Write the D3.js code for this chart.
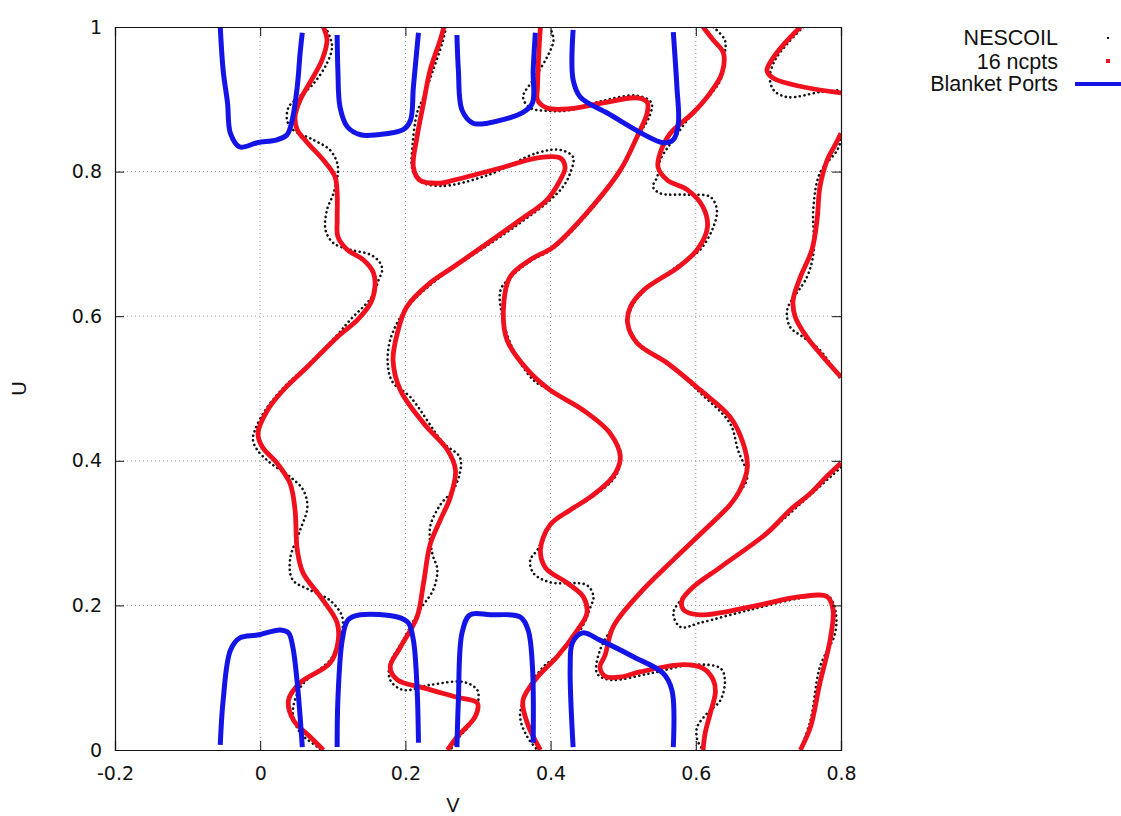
<!DOCTYPE html>
<html>
<head>
<meta charset="utf-8">
<script src="https://cdn.jsdelivr.net/npm/d3@7"></script>
<style>
  body { margin: 0; background: #fff; }
  text { font-family: "Liberation Sans", Arial, sans-serif; fill: #111; }
  .axisGroup .tick text { font-family: "DejaVu Sans", sans-serif; }
</style>
</head>
<body>
<div id="chart"></div>
<script>
const width = 1121
const height = 816
const margin = {top: 27, left: 115, right: 280, bottom: 66}

const xTicks = [-0.2, 0, 0.2, 0.4, 0.6, 0.8]
const yTicks = [0, 0.2, 0.4, 0.6, 0.8, 1]
const legendLabels = ["NESCOIL", "16 ncpts", "Blanket Ports"]

// 16 ncpts coils, [v, u]
const coilA = [[0.087,1.000],[0.092,0.982],[0.085,0.954],[0.069,0.924],[0.055,0.899],[0.048,0.876],[0.051,0.858],[0.065,0.840],[0.087,0.816],[0.103,0.793],[0.106,0.770],[0.106,0.733],[0.107,0.710],[0.120,0.692],[0.142,0.678],[0.156,0.660],[0.158,0.640],[0.152,0.618],[0.134,0.595],[0.106,0.571],[0.065,0.530],[0.032,0.498],[0.010,0.470],[-0.003,0.438],[0.003,0.419],[0.023,0.397],[0.041,0.369],[0.048,0.332],[0.051,0.277],[0.059,0.245],[0.083,0.212],[0.106,0.176],[0.107,0.148],[0.096,0.120],[0.055,0.093],[0.039,0.069],[0.046,0.041],[0.069,0.018],[0.087,0.000]]
const coilB = [[0.253,1.000],[0.248,0.982],[0.234,0.940],[0.225,0.895],[0.216,0.848],[0.211,0.806],[0.220,0.788],[0.248,0.784],[0.266,0.788],[0.335,0.806],[0.382,0.819],[0.413,0.819],[0.420,0.806],[0.413,0.788],[0.395,0.761],[0.358,0.733],[0.313,0.701],[0.266,0.668],[0.234,0.646],[0.202,0.613],[0.189,0.577],[0.183,0.539],[0.193,0.498],[0.225,0.452],[0.258,0.415],[0.269,0.387],[0.262,0.350],[0.248,0.318],[0.234,0.284],[0.225,0.231],[0.216,0.184],[0.193,0.142],[0.179,0.115],[0.189,0.097],[0.225,0.086],[0.271,0.073],[0.299,0.065],[0.296,0.046],[0.271,0.018],[0.258,0.000]]
const coilC = [[0.386,1.000],[0.384,0.968],[0.382,0.917],[0.382,0.899],[0.395,0.888],[0.427,0.887],[0.472,0.895],[0.519,0.902],[0.533,0.896],[0.533,0.881],[0.519,0.848],[0.496,0.802],[0.450,0.743],[0.404,0.696],[0.372,0.678],[0.344,0.654],[0.335,0.609],[0.340,0.567],[0.368,0.526],[0.399,0.498],[0.445,0.470],[0.482,0.438],[0.496,0.405],[0.486,0.378],[0.455,0.350],[0.427,0.332],[0.399,0.311],[0.386,0.277],[0.393,0.252],[0.423,0.231],[0.445,0.212],[0.450,0.189],[0.437,0.166],[0.409,0.129],[0.382,0.101],[0.362,0.069],[0.368,0.037],[0.386,0.000]]
const coilD = [[0.610,1.000],[0.624,0.982],[0.638,0.964],[0.636,0.936],[0.620,0.909],[0.596,0.881],[0.565,0.853],[0.551,0.826],[0.548,0.806],[0.561,0.788],[0.588,0.775],[0.610,0.751],[0.616,0.723],[0.602,0.692],[0.576,0.668],[0.528,0.636],[0.510,0.613],[0.506,0.591],[0.519,0.563],[0.561,0.535],[0.606,0.498],[0.647,0.461],[0.665,0.425],[0.671,0.391],[0.661,0.360],[0.647,0.339],[0.616,0.308],[0.569,0.263],[0.523,0.217],[0.486,0.170],[0.475,0.131],[0.468,0.115],[0.475,0.102],[0.496,0.101],[0.523,0.108],[0.583,0.118],[0.610,0.113],[0.624,0.097],[0.627,0.080],[0.620,0.051],[0.613,0.024],[0.610,0.000]]
const coilE1 = [[0.744,1.000],[0.723,0.978],[0.707,0.958],[0.698,0.940],[0.707,0.929],[0.748,0.917],[0.800,0.909]]
const coilE2 = [[0.800,0.853],[0.792,0.837],[0.781,0.816],[0.771,0.779],[0.767,0.733],[0.760,0.692],[0.744,0.654],[0.734,0.622],[0.737,0.599],[0.753,0.571],[0.775,0.544],[0.800,0.516]]
const coilE3 = [[0.800,0.397],[0.778,0.376],[0.758,0.355],[0.730,0.332],[0.698,0.300],[0.634,0.253],[0.596,0.225],[0.581,0.207],[0.583,0.194],[0.606,0.187],[0.675,0.198],[0.744,0.212],[0.781,0.212],[0.789,0.194],[0.785,0.152],[0.771,0.093],[0.758,0.032],[0.744,0.000]]

// NESCOIL coils, [v, u]
const nescA = [[0.090,1.000],[0.096,0.986],[0.099,0.972],[0.092,0.950],[0.072,0.920],[0.048,0.899],[0.039,0.889],[0.037,0.871],[0.045,0.858],[0.073,0.844],[0.096,0.830],[0.106,0.812],[0.107,0.798],[0.101,0.770],[0.092,0.747],[0.090,0.719],[0.101,0.701],[0.124,0.692],[0.152,0.685],[0.165,0.674],[0.168,0.664],[0.163,0.650],[0.154,0.627],[0.124,0.595],[0.106,0.574],[0.065,0.532],[0.032,0.501],[0.007,0.470],[-0.007,0.443],[-0.010,0.429],[-0.004,0.415],[0.014,0.397],[0.041,0.378],[0.059,0.360],[0.065,0.336],[0.055,0.304],[0.041,0.263],[0.045,0.235],[0.069,0.221],[0.096,0.207],[0.113,0.184],[0.110,0.152],[0.096,0.124],[0.072,0.104],[0.055,0.086],[0.045,0.051],[0.055,0.024],[0.079,0.004],[0.083,0.000]]
const nescB = [[0.256,1.000],[0.252,0.982],[0.238,0.940],[0.225,0.903],[0.216,0.881],[0.209,0.826],[0.209,0.806],[0.218,0.788],[0.248,0.780],[0.313,0.795],[0.382,0.826],[0.413,0.830],[0.431,0.820],[0.427,0.798],[0.417,0.779],[0.395,0.757],[0.358,0.729],[0.313,0.698],[0.266,0.667],[0.234,0.643],[0.200,0.609],[0.179,0.567],[0.176,0.530],[0.183,0.508],[0.207,0.488],[0.252,0.425],[0.275,0.405],[0.275,0.383],[0.266,0.360],[0.248,0.339],[0.234,0.308],[0.237,0.272],[0.244,0.249],[0.238,0.221],[0.220,0.194],[0.197,0.152],[0.179,0.120],[0.179,0.097],[0.197,0.083],[0.234,0.090],[0.280,0.094],[0.299,0.083],[0.300,0.065],[0.293,0.041],[0.271,0.014],[0.262,0.000]]
const nescC = [[0.399,1.000],[0.404,0.982],[0.395,0.958],[0.376,0.927],[0.362,0.903],[0.372,0.888],[0.395,0.884],[0.427,0.885],[0.472,0.898],[0.519,0.905],[0.539,0.895],[0.536,0.876],[0.523,0.853],[0.499,0.805],[0.452,0.743],[0.404,0.694],[0.372,0.676],[0.344,0.653],[0.331,0.636],[0.333,0.602],[0.347,0.557],[0.376,0.512],[0.404,0.495],[0.448,0.467],[0.486,0.433],[0.497,0.408],[0.489,0.378],[0.457,0.350],[0.427,0.331],[0.399,0.311],[0.382,0.277],[0.372,0.263],[0.376,0.245],[0.399,0.232],[0.450,0.228],[0.459,0.212],[0.455,0.198],[0.441,0.166],[0.410,0.131],[0.390,0.115],[0.368,0.083],[0.358,0.046],[0.368,0.018],[0.382,0.000]]
const nescD = [[0.624,1.000],[0.640,0.982],[0.640,0.964],[0.634,0.927],[0.617,0.903],[0.592,0.876],[0.569,0.844],[0.551,0.816],[0.547,0.793],[0.541,0.779],[0.551,0.770],[0.588,0.768],[0.620,0.765],[0.629,0.747],[0.624,0.723],[0.606,0.692],[0.573,0.668],[0.530,0.636],[0.512,0.613],[0.507,0.591],[0.521,0.563],[0.562,0.535],[0.606,0.494],[0.647,0.452],[0.658,0.415],[0.671,0.378],[0.661,0.357],[0.647,0.339],[0.616,0.308],[0.569,0.263],[0.523,0.217],[0.486,0.170],[0.468,0.138],[0.464,0.106],[0.482,0.097],[0.537,0.106],[0.596,0.118],[0.634,0.113],[0.640,0.097],[0.634,0.069],[0.616,0.051],[0.602,0.032],[0.602,0.014],[0.610,0.000]]
const nescE1 = [[0.748,1.000],[0.727,0.978],[0.709,0.954],[0.702,0.931],[0.707,0.913],[0.726,0.903],[0.771,0.910],[0.800,0.913]]
const nescE2 = [[0.800,0.844],[0.795,0.830],[0.771,0.798],[0.762,0.751],[0.762,0.687],[0.753,0.654],[0.726,0.609],[0.730,0.585],[0.748,0.571],[0.771,0.553],[0.800,0.512]]
const nescE3 = [[0.800,0.391],[0.758,0.353],[0.698,0.300],[0.634,0.253],[0.592,0.221],[0.579,0.207],[0.569,0.189],[0.579,0.170],[0.606,0.176],[0.675,0.194],[0.744,0.210],[0.782,0.213],[0.792,0.194],[0.792,0.162],[0.771,0.115],[0.758,0.041],[0.744,0.000]]

// blanket ports, [v, u]
const portTop1 = [[-0.055,1.000],[-0.051,0.940],[-0.045,0.895],[-0.041,0.853],[-0.028,0.834],[-0.004,0.840],[0.023,0.844],[0.037,0.851],[0.044,0.871],[0.051,0.917],[0.055,0.964],[0.058,0.992]]
const portTop2 = [[0.106,0.989],[0.107,0.940],[0.110,0.889],[0.120,0.862],[0.138,0.851],[0.161,0.851],[0.197,0.858],[0.207,0.871],[0.211,0.917],[0.218,0.992]]
const portTop3 = [[0.271,0.989],[0.273,0.940],[0.278,0.885],[0.293,0.867],[0.313,0.867],[0.362,0.882],[0.375,0.895],[0.376,0.940],[0.379,0.992]]
const portTop4 = [[0.431,0.996],[0.431,0.927],[0.441,0.903],[0.478,0.881],[0.555,0.840],[0.569,0.844],[0.576,0.867],[0.574,0.917],[0.569,0.993]]
const portBot1 = [[-0.055,0.007],[-0.051,0.069],[-0.041,0.138],[-0.028,0.155],[-0.004,0.159],[0.028,0.166],[0.039,0.162],[0.045,0.142],[0.051,0.093],[0.055,0.046],[0.058,0.004]]
const portBot2 = [[0.106,0.004],[0.107,0.069],[0.113,0.152],[0.121,0.180],[0.138,0.187],[0.189,0.184],[0.204,0.176],[0.211,0.152],[0.216,0.087],[0.218,0.010]]
const portBot3 = [[0.271,0.004],[0.273,0.069],[0.278,0.162],[0.289,0.187],[0.317,0.187],[0.358,0.184],[0.369,0.166],[0.375,0.115],[0.376,0.010]]
const portBot4 = [[0.431,0.004],[0.427,0.115],[0.430,0.148],[0.444,0.162],[0.468,0.152],[0.514,0.129],[0.555,0.106],[0.567,0.083],[0.569,0.004]]

const coils = [coilA, coilB, coilC, coilD, coilE1, coilE2, coilE3]
const nescoils = [nescA, nescB, nescC, nescD, nescE1, nescE2, nescE3]
const ports = [portTop1, portTop2, portTop3, portTop4, portBot1, portBot2, portBot3, portBot4]

const svg = d3.select("div#chart").append("svg").attr("width", width).attr("height", height)

const x = d3.scaleLinear().domain([-0.2, 0.8]).range([margin.left, width - margin.right])
const y = d3.scaleLinear().domain([0, 1]).range([height - margin.bottom, margin.top])

// grid
const gridGroup = svg.append("g").attr("class", "grid")
gridGroup.selectAll("line.gx").data(xTicks.slice(1, -1)).enter().append("line")
    .attr("x1", d => x(d)).attr("x2", d => x(d))
    .attr("y1", y(0)).attr("y2", y(1))
    .attr("stroke", "#999").attr("stroke-width", 1).attr("stroke-dasharray", "1,3")
gridGroup.selectAll("line.gy").data(yTicks.slice(1, -1)).enter().append("line")
    .attr("y1", d => y(d)).attr("y2", d => y(d))
    .attr("x1", x(-0.2)).attr("x2", x(0.8))
    .attr("stroke", "#999").attr("stroke-width", 1).attr("stroke-dasharray", "1,3")

svg.append("clipPath").attr("id", "plotClip").append("rect")
    .attr("x", x(-0.2)).attr("y", y(1))
    .attr("width", x(0.8) - x(-0.2)).attr("height", y(0) - y(1))

const line = d3.line().x(d => x(d[0])).y(d => y(d[1])).curve(d3.curveCatmullRom.alpha(0.5))

const elementGroup = svg.append("g").attr("clip-path", "url(#plotClip)")

elementGroup.selectAll("path.nescoil").data(nescoils).enter().append("path")
    .attr("class", "nescoil")
    .attr("d", line)
    .attr("fill", "none").attr("stroke", "#111").attr("stroke-width", 2.6)
    .attr("stroke-linecap", "round").attr("stroke-dasharray", "0.1,4.6")

elementGroup.selectAll("path.coil").data(coils).enter().append("path")
    .attr("class", "coil")
    .attr("d", line)
    .attr("fill", "none").attr("stroke", "#f0101e").attr("stroke-width", 4.8)

elementGroup.selectAll("path.port").data(ports).enter().append("path")
    .attr("class", "port")
    .attr("d", line)
    .attr("fill", "none").attr("stroke", "#1414e6").attr("stroke-width", 5)

// axes (ticks inward, mirrored)
const fmt = d => String(d)
const xAxis = d3.axisBottom(x).tickValues(xTicks).tickSize(-9).tickPadding(17).tickFormat(fmt)
const yAxis = d3.axisLeft(y).tickValues(yTicks).tickSize(-9).tickPadding(13).tickFormat(fmt)
const xAxisTop = d3.axisTop(x).tickValues(xTicks).tickSize(-9).tickFormat("")
const yAxisRight = d3.axisRight(y).tickValues(yTicks).tickSize(-9).tickFormat("")

const axisGroup = svg.append("g").attr("class", "axisGroup")
axisGroup.append("g").attr("transform", `translate(0, ${y(0)})`).call(xAxis)
axisGroup.append("g").attr("transform", `translate(${x(-0.2)}, 0)`).call(yAxis)
axisGroup.append("g").attr("transform", `translate(0, ${y(1)})`).call(xAxisTop)
axisGroup.append("g").attr("transform", `translate(${x(0.8)}, 0)`).call(yAxisRight)
axisGroup.selectAll("path.domain").attr("stroke", "#111").attr("stroke-width", 1.2)
axisGroup.selectAll(".tick line").attr("stroke", "#111")
axisGroup.selectAll(".tick text").attr("font-size", 19).attr("fill", "#111")

// axis titles
svg.append("text").attr("x", 453).attr("y", 812)
    .attr("text-anchor", "middle").attr("font-size", 20).text("V")
svg.append("text").attr("transform", `translate(26, ${y(0.5)}) rotate(-90)`)
    .attr("text-anchor", "middle").attr("font-size", 20).text("U")

// legend
const legend = svg.append("g").attr("class", "legend")
const legendY = [45, 69, 91]
legend.selectAll("text").data(legendLabels).enter().append("text")
    .attr("x", 1058).attr("y", (d, i) => legendY[i])
    .attr("text-anchor", "end").attr("font-size", 21.5).text(d => d)
legend.append("rect").attr("x", 1107).attr("y", 37).attr("width", 2).attr("height", 2).attr("fill", "#111")
legend.append("rect").attr("x", 1106).attr("y", 59).attr("width", 4).attr("height", 4).attr("fill", "#f0101e")
legend.append("line").attr("x1", 1075).attr("x2", 1121).attr("y1", 84).attr("y2", 84)
    .attr("stroke", "#1414e6").attr("stroke-width", 4)
</script>
</body>
</html>
